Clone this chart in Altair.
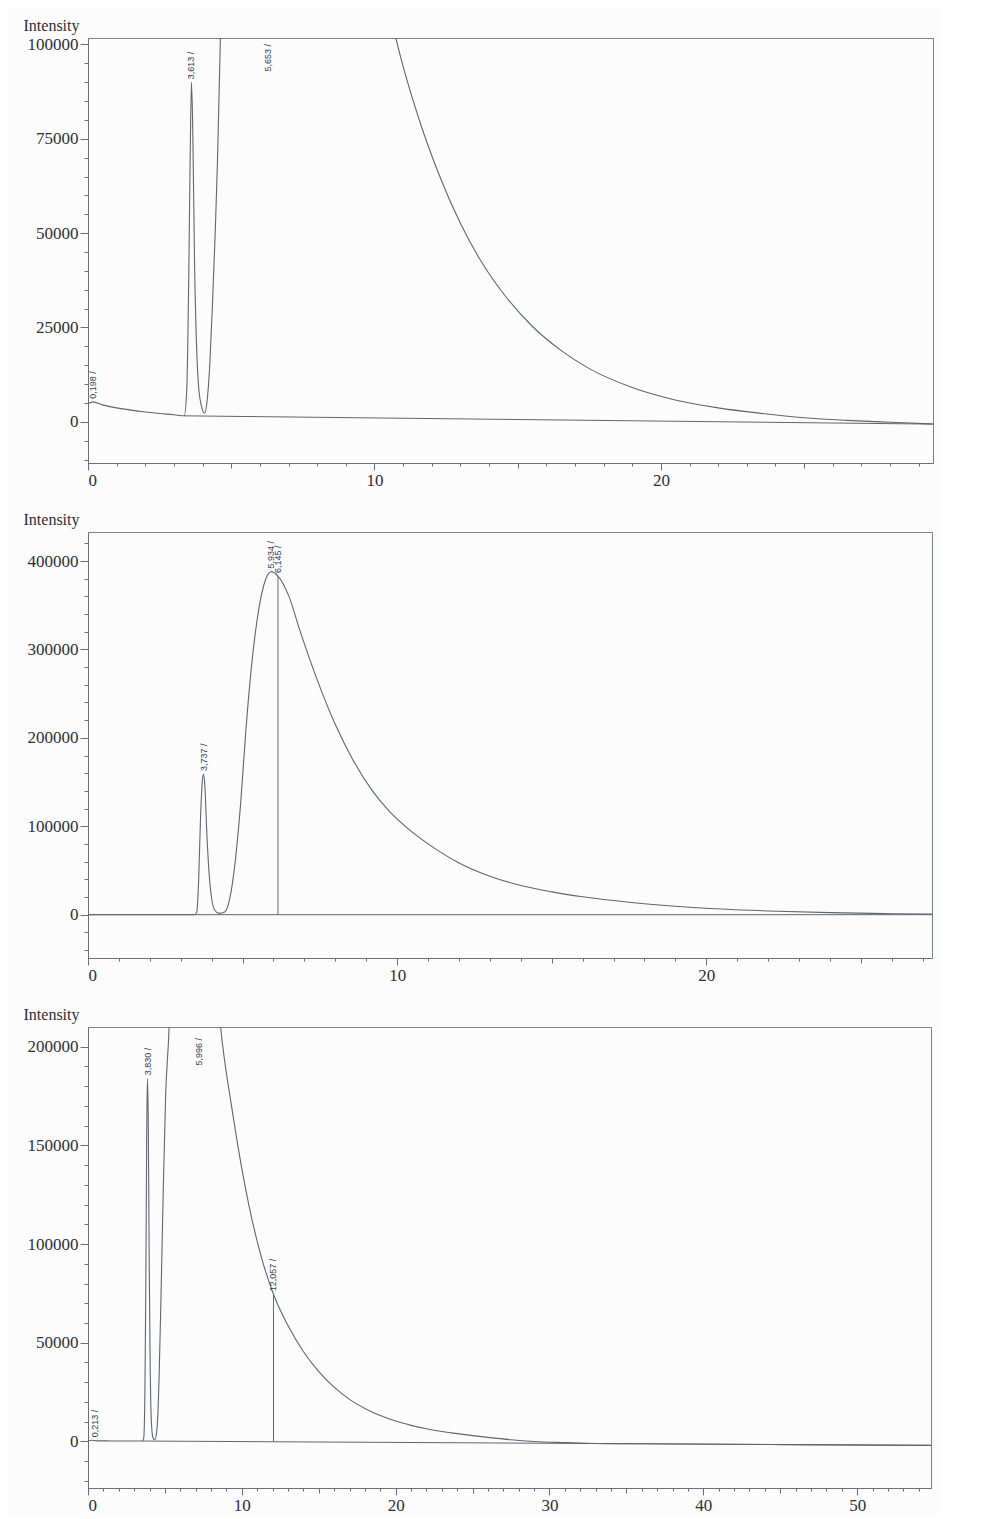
import altair as alt
import pandas as pd

# ---------------- Panel 1 ----------------
P1_T = [0.0, 0.17, 0.5, 1.0, 1.5, 2.0, 2.5, 3.0, 3.36, 3.45, 3.52, 3.57, 3.613, 3.66, 3.72, 3.8, 3.85,
        3.95, 4.07, 4.15, 4.25, 4.35, 4.45, 4.52, 4.62, 4.8, 5.653, 7.0, 8.5, 9.8, 10.3, 10.77, 11.5,
        12.25, 13.0, 13.75, 14.5, 15.5, 16.5, 17.5, 19.0, 20.5, 22.0, 23.5, 25.0, 26.5, 28.0, 29.5]
P1_I = [4800, 5300, 4500, 3700, 3100, 2600, 2200, 1900, 1600, 9000, 40000, 72000, 90000, 76000, 42000,
        18000, 10500, 4500, 2300, 5000, 15000, 32000, 52000, 69000, 101000, 180000, 400000, 320000,
        200000, 140000, 118000, 101000, 81500, 65600, 52600, 42200, 34000, 25400, 19000, 14100, 9100,
        5800, 3700, 2250, 1100, 400, -100, -550]
P1_BASE_T = [3.36, 29.5]
P1_BASE_I = [1600, -600]
P1_LBL_T = [0.17, 3.613, 6.27]
P1_LBL_I = [5300, 90000, 92000]
P1_LBL = ["0,198 /", "3,613 /", "5,653 /"]
P1_XDOM = [0, 29.5]
P1_YDOM = [-10900, 101700]
P1_XMAJOR = [0, 10, 20]
P1_YMAJOR = [0, 25000, 50000, 75000, 100000]
P1_YMINOR = list(range(-10000, 100001, 5000))

# ---------------- Panel 2 ----------------
P2_T = [0, 3.45, 3.52, 3.58, 3.64, 3.70, 3.737, 3.78, 3.84, 3.92, 4.0, 4.1, 4.24, 4.42, 4.59, 4.76,
        4.94, 5.11, 5.28, 5.46, 5.68, 5.934, 6.145, 6.5, 6.84, 7.42, 8.0, 8.57, 9.2, 9.72, 10.5, 11.3,
        12.0, 13.0, 14.0, 15.0, 16.0, 17.5, 19.0, 20.5, 22.0, 24.0, 26.0, 27.3]
P2_I = [0, 0, 3000, 40000, 110000, 152000, 159000, 145000, 95000, 45000, 18000, 5000, 1500, 3000,
        19000, 59500, 127000, 210000, 278000, 331000, 372000, 388000, 383000, 360000, 323000, 265000,
        215000, 175000, 140000, 118000, 93000, 73000, 58500, 43500, 33000, 25800, 20200, 14000, 9600,
        6400, 4200, 2300, 1100, 600]
P2_BASE_T = [0, 27.3]
P2_BASE_I = [0, 0]
P2_LBL_T = [3.737, 5.934, 6.145]
P2_LBL_I = [159000, 388000, 383000]
P2_LBL = ["3,737 /", "5,934 /", "6,145 /"]
P2_DROP_T = [6.145]
P2_DROP_I = [383000]
P2_XDOM = [0, 27.3]
P2_YDOM = [-49000, 432800]
P2_XMAJOR = [0, 10, 20]
P2_YMAJOR = [0, 100000, 200000, 300000, 400000]
P2_YMINOR = list(range(-40000, 420001, 20000))

# ---------------- Panel 3 ----------------
P3_T = [0, 0.213, 0.6, 1.5, 2.5, 3.53, 3.62, 3.7, 3.76, 3.82, 3.87, 3.92, 3.98, 4.04, 4.12, 4.22, 4.34,
        4.45, 4.55, 4.62, 4.75, 4.9, 5.05, 5.27, 5.6, 5.996, 7.0, 8.0, 8.62, 9.37, 10.45, 11.32, 12.057,
        13.0, 14.0, 15.0, 16.0, 17.0, 18.0, 19.0, 20.0, 21.0, 22.0, 23.0, 24.0, 25.0, 26.0, 27.5,
        29.0, 31.0, 33.0, 36.0, 45.0, 54.8]
P3_I = [300, 600, 300, 250, 200, 200, 1500, 25000, 80000, 160000, 184000, 160000, 90000, 40000, 10000,
        2000, 800, 4000, 15000, 32000, 75000, 130000, 176000, 210000, 330000, 450000, 380000, 270000,
        210000, 168000, 120000, 92000, 74600, 58700, 45600, 35400, 27500, 21300, 16700, 13100, 10300,
        8150, 6400, 5000, 3950, 2950, 2050, 850, 0, -600, -1070, -1200, -1600, -2000]
P3_BASE_T = [3.53, 54.8]
P3_BASE_I = [200, -2000]
P3_LBL_T = [0.43, 3.87, 7.2, 12.057]
P3_LBL_I = [600, 184000, 189000, 74600]
P3_LBL = ["0,213 /", "3,830 /", "5,996 /", "12,057 /"]
P3_DROP_T = [12.057]
P3_DROP_I = [74600]
P3_XDOM = [0, 54.8]
P3_YDOM = [-23600, 210000]
P3_XMAJOR = [0, 10, 20, 30, 40, 50]
P3_YMAJOR = [0, 50000, 100000, 150000, 200000]
P3_YMINOR = list(range(-20000, 200001, 10000))

LINE = "#5f6670"
LBLC = "#2e3d55"
AXC = "#6b6e75"
TXT = "#2c2e36"
SERIF = "Liberation Serif"


def panel(t, i, bt, bi, lt, li, ltxt, dt, di, xdom, ydom, xmajor, ymajor, yminor, w, h, ty):
    xs = alt.Scale(domain=xdom, nice=False, zero=False)
    ys = alt.Scale(domain=ydom, nice=False, zero=False)
    xmax = int(xdom[1])
    xminor = list(range(0, xmax + 1))
    xmid = list(range(0, xmax + 1, 5))

    sig = alt.Chart(pd.DataFrame({"t": t, "I": i})).mark_line(
        color=LINE, strokeWidth=1.1, clip=True, interpolate="monotone"
    ).encode(
        x=alt.X("t:Q", scale=xs, axis=alt.Axis(
            orient="bottom", values=xmajor, tickSize=7, labelFontSize=17, labelPadding=2,
            labelFont=SERIF, labelColor=TXT, title=None, grid=False)),
        y=alt.Y("I:Q", scale=ys, axis=alt.Axis(
            orient="left", values=ymajor, tickSize=8, labelFontSize=17, labelPadding=2,
            labelFont=SERIF, labelColor=TXT, format="d", grid=False,
            title="Intensity", titleAngle=0, titleAlign="left", titleBaseline="alphabetic",
            titleX=-65, titleY=ty, titleFont=SERIF, titleFontSize=16, titleFontWeight="normal",
            titleColor=TXT)),
    )

    base = alt.Chart(pd.DataFrame({"t": bt, "I": bi})).mark_line(
        color=LINE, strokeWidth=1, clip=True
    ).encode(
        x=alt.X("t:Q", scale=xs, axis=alt.Axis(
            orient="bottom", values=xminor, tickSize=3, labels=False, domain=False,
            title=None, grid=False)),
        y=alt.Y("I:Q", scale=ys, axis=alt.Axis(
            orient="left", values=yminor, tickSize=4, labels=False, domain=False,
            title=None, grid=False)),
    )

    lbl = alt.Chart(pd.DataFrame({"t": lt, "I": li, "s": ltxt})).mark_text(
        angle=270, align="left", baseline="middle", dx=3, fontSize=9,
        font="Liberation Sans", color=LBLC
    ).encode(
        x=alt.X("t:Q", scale=xs, axis=alt.Axis(
            orient="bottom", values=xmid, tickSize=5, labels=False, domain=False,
            title=None, grid=False)),
        y=alt.Y("I:Q", scale=ys, axis=None),
        text="s:N",
    )

    layers = [sig, base, lbl]
    if dt:
        drop = alt.Chart(pd.DataFrame({"t": dt, "I": di, "z": [0] * len(dt)})).mark_rule(
            color=LINE, strokeWidth=1
        ).encode(
            x=alt.X("t:Q", scale=xs, axis=None),
            y=alt.Y("z:Q", scale=ys, axis=None),
            y2="I:Q",
        )
        layers.append(drop)

    return alt.layer(*layers).resolve_axis(x="independent", y="independent").properties(
        width=w, height=h)


p1 = panel(P1_T, P1_I, P1_BASE_T, P1_BASE_I, P1_LBL_T, P1_LBL_I, P1_LBL, None, None,
           P1_XDOM, P1_YDOM, P1_XMAJOR, P1_YMAJOR, P1_YMINOR, 845, 425, -8)
p2 = panel(P2_T, P2_I, P2_BASE_T, P2_BASE_I, P2_LBL_T, P2_LBL_I, P2_LBL, P2_DROP_T, P2_DROP_I,
           P2_XDOM, P2_YDOM, P2_XMAJOR, P2_YMAJOR, P2_YMINOR, 844, 426, -8)
p3 = panel(P3_T, P3_I, P3_BASE_T, P3_BASE_I, P3_LBL_T, P3_LBL_I, P3_LBL, P3_DROP_T, P3_DROP_I,
           P3_XDOM, P3_YDOM, P3_XMAJOR, P3_YMAJOR, P3_YMINOR, 843, 461, -8)

chart = alt.vconcat(p1, p2, p3, spacing=21).properties(
    padding={"left": 14, "top": 8, "right": 6, "bottom": 2},
    background="#fcfcfc",
).configure_view(
    stroke="#7c808a", strokeWidth=1
).configure_axis(
    domainColor=AXC, tickColor=AXC, domainWidth=1, tickWidth=1
)

chart.save("out.html", embed_options={"renderer": "svg", "actions": False})
